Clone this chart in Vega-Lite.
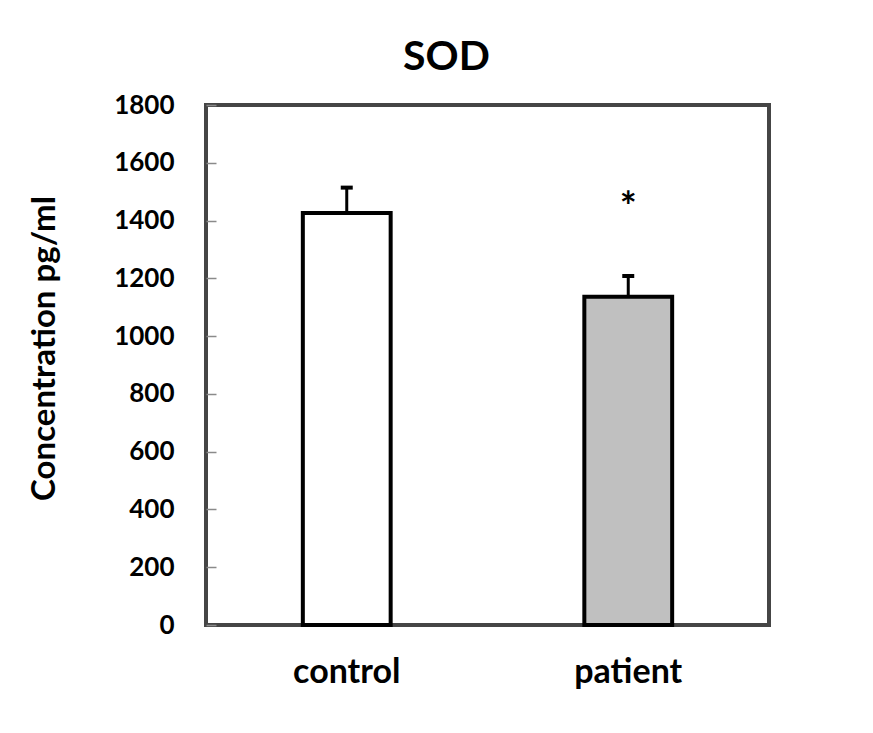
{
  "$schema": "https://vega.github.io/schema/vega-lite/v6.json",
  "width": 563,
  "height": 520,
  "padding": {"left": 28, "top": 37, "right": 100, "bottom": 40},
  "background": "white",
  "title": {"text": "SOD", "font": "Lato", "fontSize": 41, "fontWeight": "bold", "color": "black", "anchor": "middle", "dx": -41, "baseline": "alphabetic", "offset": -19},
  "data": {"values": [
    {"group": "control", "mean": 1426, "upper": 1514, "sig": "", "sig_y": null},
    {"group": "patient", "mean": 1136, "upper": 1208, "sig": "*", "sig_y": 1400}
  ]},
  "encoding": {
    "x": {"field": "group", "type": "nominal", "sort": null,
      "scale": {"paddingInner": 0.688, "paddingOuter": 0.344},
      "axis": {"title": null, "domain": false, "ticks": false, "labelAngle": 0, "labelPadding": 30, "labelFont": "Lato", "labelFontSize": 34, "labelFontWeight": "bold", "labelColor": "black"}}
  },
  "layer": [
    {
      "mark": {"type": "bar", "stroke": "black", "strokeWidth": 4},
      "encoding": {
        "y": {"field": "mean", "type": "quantitative", "scale": {"domain": [0, 1800]},
          "axis": {"title": "Concentration pg/ml", "format": "d", "values": [0, 200, 400, 600, 800, 1000, 1200, 1400, 1600, 1800], "domain": false, "grid": false, "tickSize": -10, "tickColor": "#8a8a8a", "tickWidth": 1.5, "labelPadding": 42, "labelFont": "Lato", "labelFontSize": 26, "labelFontWeight": "bold", "labelColor": "black", "titleFont": "Lato", "titleFontSize": 33, "titleFontWeight": "bold", "titleColor": "black", "titlePadding": 52, "titleY": 243}},
        "fill": {"field": "group", "type": "nominal", "scale": {"domain": ["control", "patient"], "range": ["white", "#c0c0c0"]}, "legend": null}
      }
    },
    {
      "mark": {"type": "rule", "strokeWidth": 3, "color": "black"},
      "encoding": {"y": {"field": "mean", "type": "quantitative"}, "y2": {"field": "upper"}}
    },
    {
      "mark": {"type": "tick", "thickness": 4, "size": 12, "color": "black", "orient": "horizontal", "opacity": 1},
      "encoding": {"y": {"field": "upper", "type": "quantitative"}}
    },
    {
      "transform": [{"filter": "datum.sig != ''"}],
      "mark": {"type": "text", "font": "Lato", "fontSize": 40, "fontWeight": "bold", "color": "black", "baseline": "alphabetic"},
      "encoding": {"y": {"field": "sig_y", "type": "quantitative"}, "text": {"field": "sig"}}
    }
  ],
  "config": {"view": {"stroke": "#454545", "strokeWidth": 4}}
}
